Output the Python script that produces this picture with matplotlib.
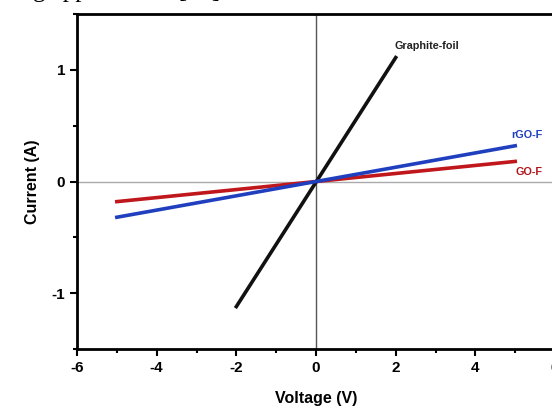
import matplotlib
matplotlib.use('Agg')
import numpy as np
import matplotlib.pyplot as plt

# I-V data (linear sweeps)
voltage_graphite = [-2, 2]
current_graphite = [-1.12, 1.11]
voltage_rgo = [-5, 5]
current_rgo = [-0.32, 0.32]
voltage_go = [-5, 5]
current_go = [-0.18, 0.18]

plt.rcParams['font.family'] = ['Liberation Sans', 'DejaVu Sans']
plt.rcParams['axes.unicode_minus'] = False

fig = plt.figure(figsize=(5.52, 4.07), dpi=100)
ax = fig.add_axes([0.1395, 0.1425, 0.866, 0.823])

ax.axvline(0, color='#555555', lw=1.0, zorder=1)
ax.axhline(0, color='#aaaaaa', lw=1.0, zorder=1)

ax.plot(voltage_graphite, current_graphite, color='#111111', lw=2.6, zorder=3)
ax.plot(voltage_rgo, current_rgo, color='#1f3fbf', lw=2.6, zorder=3)
ax.plot(voltage_go, current_go, color='#c0171d', lw=2.6, zorder=2)

ax.text(1.98, 1.19, 'Graphite-foil', fontsize=7.8, fontweight='bold', color='#222222')
ax.text(4.9, 0.39, 'rGO-F', fontsize=7.8, fontweight='bold', color='#1f3fbf')
ax.text(5.02, 0.06, 'GO-F', fontsize=7.8, fontweight='bold', color='#b0171d')

ax.set_xlim(-6, 6)
ax.set_ylim(-1.5, 1.5)
ax.set_xticks([-6, -4, -2, 0, 2, 4, 6])
ax.set_xticks([-5, -3, -1, 1, 3, 5], minor=True)
ax.set_yticks([-1, 0, 1])
ax.set_yticks([-1.5, -0.5, 0.5, 1.5], minor=True)
ax.tick_params(which='major', direction='out', length=5, width=1.5, labelsize=11)
ax.tick_params(which='minor', direction='out', length=3, width=1.5)
for lbl in ax.get_xticklabels() + ax.get_yticklabels():
    lbl.set_fontweight('bold')

for side in ['left', 'bottom', 'top', 'right']:
    ax.spines[side].set_linewidth(2.0)

ax.set_xlabel('Voltage (V)', fontsize=11.5, fontweight='bold', labelpad=12)
ax.set_ylabel('Current (A)', fontsize=11.5, fontweight='bold', labelpad=8)

# cropped caption line from the page above the figure
fig.text(0.06, 1.0 + 2.5 / 407, 'g applications [39]', family='Liberation Serif',
         fontsize=18, va='baseline', ha='left')

plt.savefig('out.png', dpi=100)
